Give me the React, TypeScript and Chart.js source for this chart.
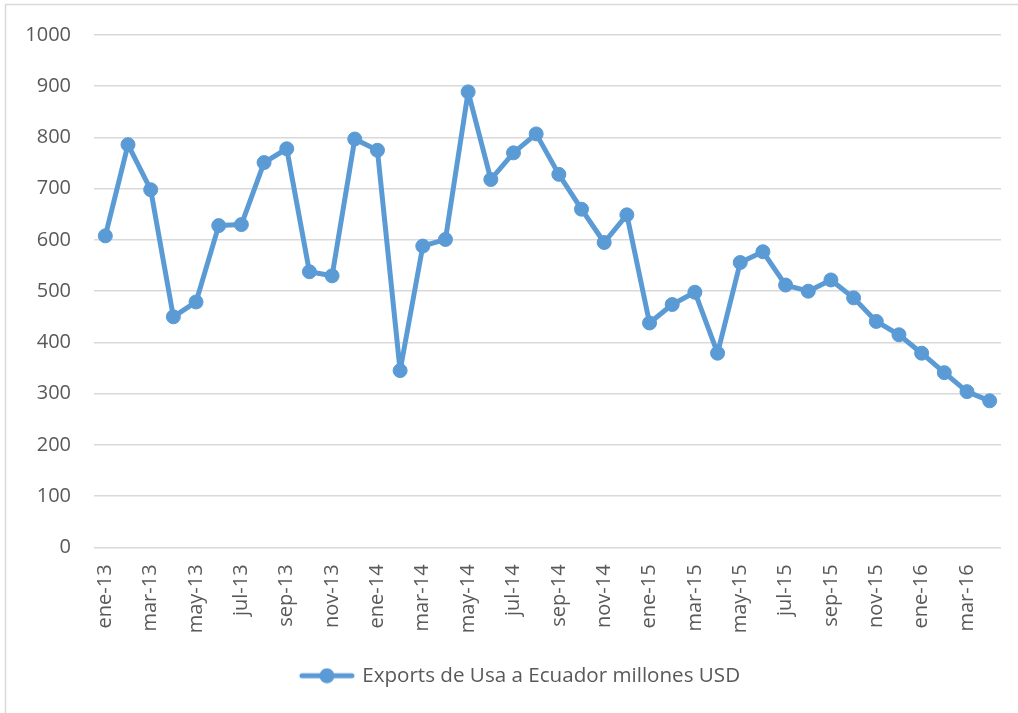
import React, { useEffect, useRef } from "react";
import { Chart, registerables } from "chart.js";

Chart.register(...registerables);

const months: string[] = [
  "ene-13", "feb-13", "mar-13", "abr-13", "may-13", "jun-13", "jul-13", "ago-13", "sep-13", "oct-13", "nov-13", "dic-13",
  "ene-14", "feb-14", "mar-14", "abr-14", "may-14", "jun-14", "jul-14", "ago-14", "sep-14", "oct-14", "nov-14", "dic-14",
  "ene-15", "feb-15", "mar-15", "abr-15", "may-15", "jun-15", "jul-15", "ago-15", "sep-15", "oct-15", "nov-15", "dic-15",
  "ene-16", "feb-16", "mar-16", "abr-16",
];

const exportsValues: number[] = [
  608, 786, 698, 450, 479, 628, 630, 751, 778, 538, 530, 797,
  775, 345, 588, 601, 889, 718, 770, 807, 728, 660, 595, 649,
  438, 474, 498, 379, 556, 577, 512, 500, 522, 487, 441, 415,
  379, 341, 304, 286,
];

const seriesLabel = "Exports de Usa a Ecuador millones USD";
const yTicks: number[] = [0, 100, 200, 300, 400, 500, 600, 700, 800, 900, 1000];

const BLUE = "#5B9BD5";
const GRID = "#d9d9d9";
const TEXT = "#595959";
const FONT = "'Open Sans', 'Noto Sans', sans-serif";

export default function App() {
  const ref = useRef<HTMLCanvasElement | null>(null);

  useEffect(() => {
    document.body.style.margin = "0";
    const canvas = ref.current;
    if (!canvas) return;

    const legendImg = document.createElement("canvas");
    legendImg.width = 56;
    legendImg.height = 16;
    const lc = legendImg.getContext("2d");
    if (lc) {
      lc.strokeStyle = BLUE;
      lc.lineWidth = 5;
      lc.lineCap = "round";
      lc.beginPath();
      lc.moveTo(3, 8);
      lc.lineTo(53, 8);
      lc.stroke();
      lc.fillStyle = BLUE;
      lc.beginPath();
      lc.arc(28, 8, 7.5, 0, Math.PI * 2);
      lc.fill();
    }

    const borderPlugin = {
      id: "outerBorder",
      afterLayout(chart: any) {
        if (chart.legend) {
          chart.legend.left += 10;
          chart.legend.right += 10;
        }
      },
      beforeDraw(chart: any) {
        const ctx = chart.ctx;
        ctx.save();
        ctx.fillStyle = "#ffffff";
        ctx.fillRect(0, 0, chart.width, chart.height);
        ctx.strokeStyle = GRID;
        ctx.lineWidth = 1.5;
        ctx.beginPath();
        ctx.moveTo(5.5, chart.height);
        ctx.lineTo(5.5, 4.5);
        ctx.lineTo(chart.width, 4.5);
        ctx.stroke();
        ctx.restore();
      },
    };

    const chart = new Chart(canvas, {
      type: "line",
      data: {
        labels: months,
        datasets: [
          {
            label: seriesLabel,
            data: exportsValues,
            borderColor: BLUE,
            backgroundColor: BLUE,
            borderWidth: 5,
            pointRadius: 7,
            pointHoverRadius: 7,
            pointBackgroundColor: BLUE,
            pointBorderColor: BLUE,
            pointBorderWidth: 1,
            pointStyle: "circle",
            tension: 0,
            fill: false,
            borderJoinStyle: "round",
          } as any,
        ],
      },
      options: {
        animation: false,
        responsive: false,
        maintainAspectRatio: false,
        layout: { padding: { left: 21, right: 17, top: 33, bottom: 17 } },
        plugins: {
          tooltip: { enabled: false },
          legend: {
            position: "bottom",
            labels: {
              usePointStyle: true,
              pointStyleWidth: 50,
              color: TEXT,
              font: { family: FONT, size: 20.6 },
              padding: 10,
              generateLabels: () => [
                {
                  text: seriesLabel,
                  pointStyle: legendImg as any,
                  fillStyle: BLUE,
                  strokeStyle: BLUE,
                  lineWidth: 0,
                  hidden: false,
                  datasetIndex: 0,
                  fontColor: TEXT,
                } as any,
              ],
            },
          },
        },
        scales: {
          x: {
            offset: true,
            grid: { display: false, drawTicks: false },
            border: { display: false },
            afterFit: (s: any) => {
              s.height = 108;
              s.paddingLeft = 0;
              s.paddingRight = 0;
            },
            ticks: {
              autoSkip: false,
              maxRotation: 90,
              minRotation: 90,
              padding: 17,
              color: TEXT,
              font: { family: FONT, size: 20 },
              callback: (_v: any, i: number) => (i % 2 === 0 ? months[i] : ""),
            },
          },
          y: {
            min: 0,
            max: 1000,
            afterFit: (s: any) => {
              s.width = 73;
            },
            afterBuildTicks: (s: any) => {
              s.ticks = yTicks.map((v) => ({ value: v }));
            },
            grid: { color: GRID, lineWidth: 1.5, drawTicks: false },
            border: { display: false },
            ticks: {
              padding: 23,
              color: TEXT,
              font: { family: FONT, size: 20 },
              callback: (v: any) => String(v),
            },
          },
        },
      },
      plugins: [borderPlugin],
    });

    return () => chart.destroy();
  }, []);

  return (
    <div style={{ position: "absolute", left: 0, top: 0, width: 1018, height: 713 }}>
      <canvas ref={ref} width={1018} height={713} style={{ width: 1018, height: 713, display: "block" }} />
    </div>
  );
}
